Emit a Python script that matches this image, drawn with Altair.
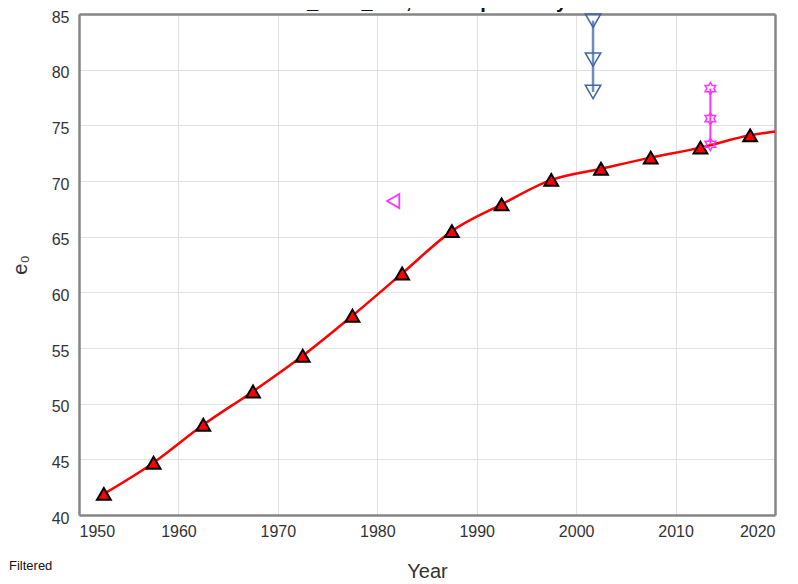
import altair as alt
import pandas as pd

# Red series (filtered estimates)
red_years = [1952.5, 1957.5, 1962.5, 1967.5, 1972.5, 1977.5, 1982.5, 1987.5,
             1992.5, 1997.5, 2002.5, 2007.5, 2012.5, 2017.5]
red_e0 = [41.9, 44.7, 48.1, 51.1, 54.3, 57.9, 61.7, 65.5, 67.9, 70.1, 71.1,
          72.1, 73.0, 74.1]
# red smoothed line continues to the frame edge
red_line_years = red_years + [2020.0]
red_line_e0 = red_e0 + [74.45]

# Blue series
blue_years = [2001.7, 2001.7, 2001.7]
blue_e0 = [84.4, 80.9, 78.0]

# Magenta hexagram series
mag_years = [2013.5, 2013.5, 2013.5]
mag_e0 = [78.3, 75.6, 73.3]

# Magenta single point
tri_years = [1981.6]
tri_e0 = [68.2]

x_ticks = [1950, 1960, 1970, 1980, 1990, 2000, 2010, 2020]
y_ticks = [40, 45, 50, 55, 60, 65, 70, 75, 80, 85]

title_text = "Honduras_RHD_040, Life expectancy at birth"

W, H = 696, 501
FONT = "Liberation Sans"
FRAME = "#858585"

xs = alt.Scale(domain=[1950, 2020], nice=False)
ys = alt.Scale(domain=[40, 85], nice=False)

x_axis = alt.Axis(values=x_ticks, format="d", title="Year", grid=True,
                  gridColor="#e2e2e2", gridWidth=1, domain=True,
                  domainColor=FRAME, domainWidth=2.5, ticks=False,
                  labelFont=FONT, labelFontSize=16, labelColor="#333333",
                  labelPadding=8, titleFont=FONT, titleFontSize=20,
                  titleFontWeight="normal", titleColor="#333333",
                  titlePadding=22)
y_axis = alt.Axis(values=y_ticks, title="e₀", grid=True, gridColor="#e2e2e2",
                  gridWidth=1, domain=True, domainColor=FRAME, domainWidth=2.5,
                  ticks=False, labelFont=FONT, labelFontSize=16,
                  labelColor="#333333", labelPadding=10, labelOffset=3,
                  titleFont=FONT, titleFontSize=20, titleFontWeight="normal",
                  titleColor="#333333", titlePadding=21)
x_top = alt.Axis(orient="top", values=x_ticks, labels=False, ticks=False,
                 grid=False, title=None, domain=True, domainColor=FRAME,
                 domainWidth=2.5)
y_right = alt.Axis(orient="right", values=y_ticks, labels=False, ticks=False,
                   grid=False, title=None, domain=True, domainColor=FRAME,
                   domainWidth=2.5)

red_line_df = pd.DataFrame({"year": red_line_years, "e0": red_line_e0})
red_df = pd.DataFrame({"year": red_years, "e0": red_e0})
blue_df = pd.DataFrame({"year": blue_years, "e0": blue_e0})
mag_df = pd.DataFrame({"year": mag_years, "e0": mag_e0})
tri_df = pd.DataFrame({"year": tri_years, "e0": tri_e0})

red_line = alt.Chart(red_line_df).mark_line(
    color="#ff0000", strokeWidth=2.5, interpolate="monotone"
).encode(
    x=alt.X("year:Q", scale=xs, axis=x_axis),
    y=alt.Y("e0:Q", scale=ys, axis=y_axis),
)

frame_layer = alt.Chart(red_df).mark_point(opacity=0).encode(
    x=alt.X("year:Q", scale=xs, axis=x_top),
    y=alt.Y("e0:Q", scale=ys, axis=y_right),
)

pt_x = alt.X("year:Q", scale=xs, axis=None)
pt_y = alt.Y("e0:Q", scale=ys, axis=None)

red_pts = alt.Chart(red_df).mark_point(
    shape="triangle-up", filled=True, fill="#ff0000", stroke="#000000",
    strokeWidth=2, size=190, opacity=1
).encode(x=pt_x, y=pt_y)

blue_line = alt.Chart(blue_df).mark_line(
    color="#4a70ad", strokeWidth=2.5, opacity=0.8
).encode(x=pt_x, y=pt_y)

blue_pts = alt.Chart(blue_df).mark_point(
    shape="triangle-down", filled=False, stroke="#3f66a8", strokeWidth=1.5,
    size=240, opacity=1
).encode(x=pt_x, y=pt_y)

hexagram = ("M0,-1L0.289,-0.5L0.866,-0.5L0.577,0L0.866,0.5L0.289,0.5L0,1"
            "L-0.289,0.5L-0.866,0.5L-0.577,0L-0.866,-0.5L-0.289,-0.5Z")

mag_line = alt.Chart(mag_df).mark_line(
    color="#ff33ff", strokeWidth=2
).encode(x=pt_x, y=pt_y)

mag_pts = alt.Chart(mag_df).mark_point(
    shape=hexagram, filled=False, stroke="#ff33ff", strokeWidth=1.5,
    size=150, opacity=1
).encode(x=pt_x, y=pt_y)

tri_pts = alt.Chart(tri_df).mark_point(
    shape="triangle-left", filled=False, stroke="#ff33ff", strokeWidth=1.8,
    size=200, opacity=1
).encode(x=pt_x, y=pt_y)

title_mark = alt.Chart(pd.DataFrame({"t": [title_text]})).mark_text(
    font=FONT, fontSize=20, fontWeight="bold", color="#111111",
    align="center", baseline="bottom"
).encode(x=alt.value(W / 2), y=alt.value(-2), text="t:N")

filtered_mark = alt.Chart(pd.DataFrame({"t": ["Filtered"]})).mark_text(
    font=FONT, fontSize=13, color="#111111", align="left", baseline="middle"
).encode(x=alt.value(-70), y=alt.value(552), text="t:N")

chart = alt.layer(
    red_line, frame_layer, red_pts, blue_line, blue_pts, mag_line, mag_pts,
    tri_pts, title_mark, filtered_mark
).resolve_axis(
    x="independent", y="independent"
).properties(
    width=W, height=H,
    autosize=alt.AutoSizeParams(type="none"),
    padding={"left": 71, "top": 6, "right": 12, "bottom": 70},
).configure_view(
    stroke=None
).configure(background="white")

chart.save("out.html", embed_options={"renderer": "svg", "actions": False})
